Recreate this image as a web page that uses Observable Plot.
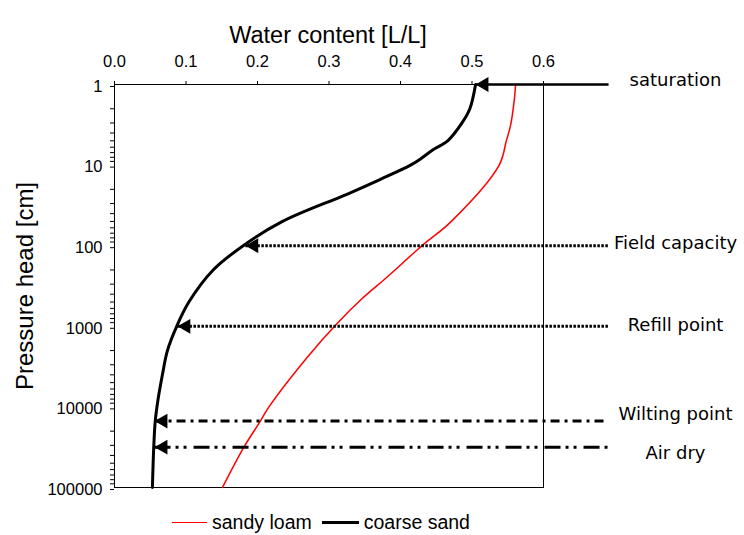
<!DOCTYPE html>
<html><head><meta charset="utf-8">
<script src="https://cdn.jsdelivr.net/npm/d3@7"></script>
<script src="https://cdn.jsdelivr.net/npm/@observablehq/plot@0.6"></script>
<style>
body{margin:0;background:#fff;width:744px;height:535px;position:relative;overflow:hidden;}
#legend{position:absolute;left:172px;top:510px;height:24px;display:flex;align-items:center;font-family:"Liberation Sans",Arial,sans-serif;font-size:19.5px;color:#000;}
.sw{display:inline-block;height:0;}
</style></head><body>
<div id="chart"></div>
<div id="legend"></div>
<script>
// ---- data ----
const xTicks = [0, 0.1, 0.2, 0.3, 0.4, 0.5, 0.6];
const yTicks = [1, 10, 100, 1000, 10000, 100000];

const sandHead  = [1, 2, 3, 5, 6.5, 8.5, 10, 15, 23, 50, 100, 200, 500, 1000, 2000, 4000, 8000, 15000, 30000, 100000];
const sandTheta = [0.505, 0.497, 0.486, 0.466, 0.445, 0.427, 0.414, 0.372, 0.325, 0.235, 0.180, 0.138, 0.104, 0.087, 0.074, 0.067, 0.061, 0.057, 0.055, 0.053];

const loamHead  = [1, 1.6, 3.2, 5, 10, 51, 100, 246, 456, 930, 2400, 10000, 15000, 31600, 100000];
const loamTheta = [0.561, 0.559, 0.554, 0.548, 0.538, 0.470, 0.430, 0.381, 0.346, 0.311, 0.270, 0.216, 0.204, 0.181, 0.151];

const annLabels = ["saturation", "Field capacity", "Refill point", "Wilting point", "Air dry"];
const annHead   = [1, 100, 1000, 15000, 31600];
const annTheta  = [0.505, 0.183, 0.088, 0.056, 0.056];

const seriesNames = ["sandy loam", "coarse sand"];

// ---- styles / layout ----
const annEnd = 0.691;
const annDash = [null, "2.5,1.5", "2.5,1.5", "9,5,3,5", "16,5,3,5,3,7"];
const annWidth = [2.5, 3, 3, 3, 3];
const annDy = [-4, -2, -1, -7, 6];
const seriesColor = ["#ff0000", "#000000"];
const seriesWidth = [1.5, 3];

const sand = sandHead.map((h, i) => ({h, t: sandTheta[i]}));
const loam = loamHead.map((h, i) => ({h, t: loamTheta[i]}));

const minor = [];
for (const d of [1, 10, 100, 1000, 10000]) for (let m = 2; m <= 9; m++) minor.push(d * m);

const marks = [
  Plot.frame({stroke: "black", strokeWidth: 1}),
  Plot.axisX({anchor: "top", ticks: xTicks, tickFormat: d3.format(".1f"), tickSize: 4, tickPadding: 14, label: null, fontSize: 16.5}),
  Plot.axisY({ticks: yTicks, tickFormat: d => String(d), tickSize: 4, tickPadding: 8, label: null, fontSize: 16.5, dy: 2}),
  Plot.axisY({ticks: minor, tickSize: 4, fill: "none", label: null}),
  Plot.line(loam, {x: "t", y: "h", stroke: seriesColor[0], strokeWidth: seriesWidth[0], curve: "catmull-rom"}),
  Plot.line(sand, {x: "t", y: "h", stroke: seriesColor[1], strokeWidth: seriesWidth[1], curve: "catmull-rom"}),
];

annLabels.forEach((lab, i) => {
  const seg = [{t: annTheta[i], h: annHead[i]}, {t: annEnd, h: annHead[i]}];
  marks.push(Plot.line(seg, {x: "t", y: "h", stroke: "black", strokeWidth: annWidth[i], strokeDasharray: annDash[i] || undefined, strokeLinecap: "butt"}));
  marks.push(Plot.dot([seg[0]], {x: "t", y: "h", symbol: "triangle", r: 5.5, rotate: -90, dx: 8.6, fill: "black", stroke: "none"}));
  marks.push(Plot.text([lab], {x: () => 0.6, y: () => annHead[i], text: d => d, dx: 132, dy: annDy[i], textAnchor: "middle", fontFamily: "DejaVu Sans", fontSize: 18, fill: "black"}));
});

marks.push(Plot.text(["Water content [L/L]"], {frameAnchor: "top", dy: -58.5, dx: -1, fontSize: 23.5, fill: "black"}));
marks.push(Plot.text(["Pressure head [cm]"], {frameAnchor: "left", textAnchor: "middle", rotate: -90, dx: -89, fontSize: 24, fill: "black"}));

const chart = Plot.plot({
  width: 744,
  height: 500,
  marginTop: 84,
  marginBottom: 13,
  marginLeft: 114,
  marginRight: 201,
  style: {fontFamily: "'Liberation Sans', Arial, sans-serif", fontSize: "16px", background: "white", color: "black", overflow: "visible"},
  x: {domain: [0, 0.6]},
  y: {type: "log", domain: [1, 100000], reverse: true},
  marks
});
document.getElementById("chart").appendChild(chart);

const lg = document.getElementById("legend");
seriesNames.forEach((name, i) => {
  const sw = document.createElement("span");
  sw.className = "sw";
  sw.style.width = (i === 0 ? 35 : 37) + "px";
  sw.style.borderTop = seriesWidth[i] + "px solid " + seriesColor[i];
  sw.style.marginRight = "5px";
  const tx = document.createElement("span");
  tx.textContent = name;
  tx.style.marginRight = "10px";
  lg.appendChild(sw);
  lg.appendChild(tx);
});
</script></body></html>
